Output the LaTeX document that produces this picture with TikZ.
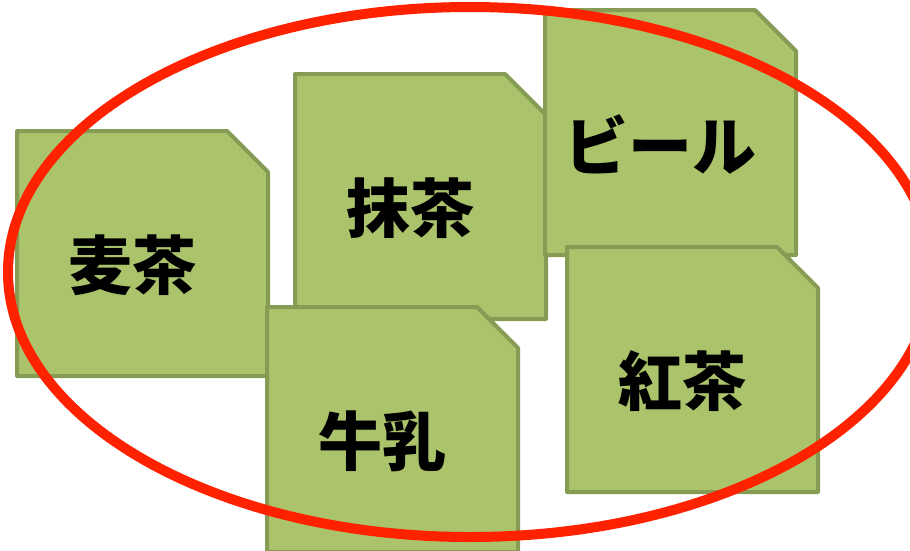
\documentclass[tikz,border=0pt]{standalone}
\usepackage{fontspec}
\newfontfamily\jpfont{Noto Sans CJK JP}
\definecolor{boxgreen}{RGB}{171,196,108}
\definecolor{boxedge}{RGB}{134,156,84}
\definecolor{ringred}{RGB}{255,34,0}
\usepackage{tikz}
\usetikzlibrary{positioning,calc}

% box with its top right corner cut off, top left at (#2,#3)
\newcommand{\drinkbox}[4]{%
  \draw[drinkshape] (#2,#3) -- ++(210,0) -- ++(41,41) -- ++(0,204) -- ++(-251,0) -- cycle;
  \node[drinklabel] (#1) at ($(#2,#3)+(115.5,134.5)$) {#4};}

\begin{document}
\begin{tikzpicture}[x=1pt,y=-1pt,
    drinkshape/.style={fill=boxgreen,draw=boxedge,line width=4pt,line join=round},
    drinklabel/.style={font=\jpfont\bfseries\fontsize{64}{66}\selectfont,text=black,inner sep=0pt}]
                \useasboundingbox (0,0) rectangle (910,550);
                \clip (0,0) rectangle (910,550);
                \drinkbox{mugicha}{17}{131}{麦茶}
                \drinkbox{matcha}{295}{74}{抹茶}
                \drinkbox{beer}{545}{10}{ビール}
                \drinkbox{kocha}{567}{247}{紅茶}
                \drinkbox{gyunyu}{267}{307}{牛乳}
                \draw[ringred,line width=10pt] (470,272) ellipse [x radius=462,y radius=265];
            \end{tikzpicture}
\end{document}
